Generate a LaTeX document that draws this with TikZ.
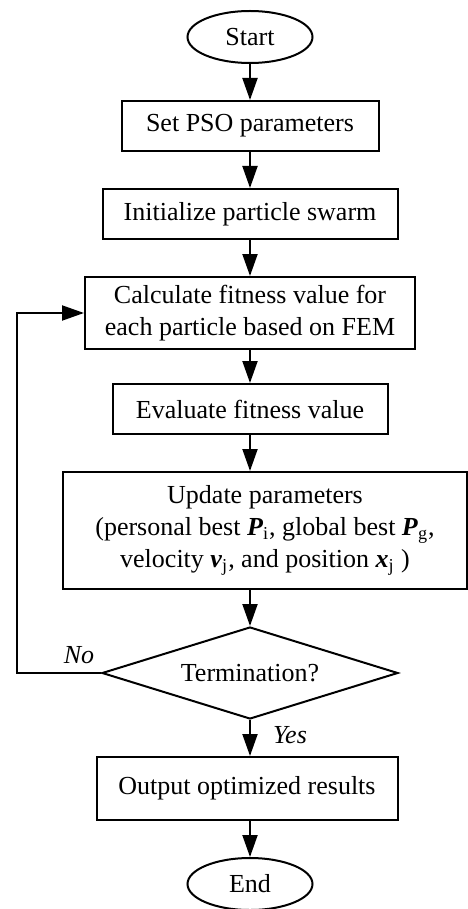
\documentclass[tikz,border=0pt]{standalone}
\usepackage{fontspec}
\setmainfont{Liberation Serif}
\usepackage{tikz}
\usetikzlibrary{arrows.meta,positioning,shapes.geometric,calc}
\newcommand{\bvec}[2]{\textbf{\textit{#1}}\textsubscript{#2}}

\begin{document}
\begin{tikzpicture}[
  x=0.5pt, y=-0.5pt,
  font=\fontsize{13}{16}\selectfont,
  >={Triangle[length=11pt,width=7.5pt]},
  node distance=18pt,
  every path/.style={line width=1pt},
  stepbox/.style 2 args={
    draw,
    line width=1pt,
    inner sep=0pt,
    minimum width=#1,
    minimum height=#2,
    align=center
  },
  terminal/.style={
    draw,
    ellipse,
    line width=1pt,
    inner sep=0pt,
    minimum width=62.5pt,
    minimum height=26pt
  },
  decision/.style={
    draw,
    diamond,
    shape aspect=3.2,
    line width=1pt,
    inner sep=0pt,
    minimum width=148pt,
    minimum height=46pt
  },
  lbl/.style={font=\fontsize{13}{16}\selectfont\itshape}
]

  % Frame
  \useasboundingbox (0,0) rectangle (467,909);

  % Main column
  \node[terminal] (start) at (250,37) {Start};
  \node[stepbox={128.5pt}{25pt}, below=of start] (setpso) {Set PSO parameters};
  \node[stepbox={147.5pt}{25pt}, below=of setpso] (init) {Initialize particle swarm};
  \node[stepbox={165pt}{36pt}, below=of init] (calc) {Calculate fitness value for\\each particle based on FEM};
  \node[stepbox={137.5pt}{25pt}, below=16.5pt of calc] (eval) {Evaluate fitness value};
  \node[stepbox={202pt}{58.5pt}, below=of eval, xshift=7.5pt] (update) {
    Update parameters\\
    (personal best \bvec{P}{i}, global best \bvec{P}{g},\\
    velocity \bvec{v}{j}, and position \bvec{x}{j} )
  };
  \node[decision, below=of update.south -| eval.south] (test) {Termination?};
  \node[stepbox={150.5pt}{31.5pt}, below=of test, xshift=-1.5pt] (output) {Output optimized results};
  \node[terminal, below=of output.south -| test.south] (stop) {End};

  % Branch labels
  \node[lbl] (no) at (79,655) {No};
  \node[lbl] (yes) at (290,735) {Yes};
  \coordinate (back) at (17,313);

  % Connecting arrows
  \draw[->] (start) -- (setpso);
  \draw[->] (setpso) -- (init);
  \draw[->] (init) -- (calc);
  \draw[->] (calc) -- (eval);
  \draw[->] (eval.south) -- (eval.south |- update.north);
  \draw[->] (update.south -| test.north) -- (test.north);
  \draw[->] (test.south) -- (test.south |- output.north);
  \draw[->] (output.south -| stop.north) -- (stop.north);

  % Loop back on No
  \draw[->] (test.west) -- (test.west -| back) -- (back |- calc.west) -- (calc.west);

\end{tikzpicture}
\end{document}
